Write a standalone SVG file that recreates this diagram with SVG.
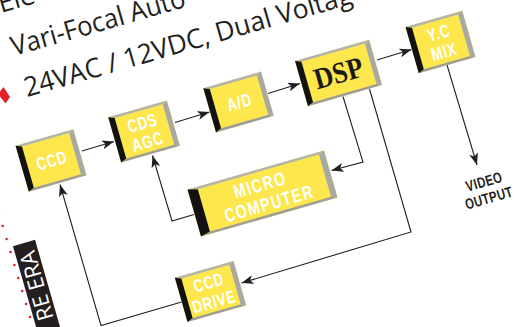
<svg xmlns="http://www.w3.org/2000/svg" width="524" height="327" viewBox="0 0 524 327">
<defs>
<style>
.y{fill:#fde74c}
.gt{fill:#b3b4ad}
.gr{fill:#a8a9a2}
.gb{fill:#9d9e98}
.bk{fill:#121212}
.bt{font-family:"Liberation Sans",Arial,sans-serif;font-weight:bold;font-size:18px;fill:#fff;text-anchor:middle;letter-spacing:1px}
.ds{font-family:"Liberation Serif","Times New Roman",serif;font-weight:bold;font-size:30px;fill:#1a1a1a;text-anchor:middle}
.ln{fill:none;stroke:#231f20;stroke-width:1.1;marker-end:url(#ah)}
.hd{font-family:"Open Sans","Liberation Sans",sans-serif;font-size:27px;fill:#231f20}
.lb{font-family:"Liberation Sans",Arial,sans-serif;font-weight:bold;font-size:15px;fill:#231f20;text-anchor:middle;letter-spacing:0.5px}
.era{font-family:"Open Sans","Liberation Sans",sans-serif;font-size:22px;fill:#fff;text-anchor:end}
.dot{fill:#e31e24}
</style>
<marker id="ah" viewBox="0 0 12 9" refX="12" refY="4.5" markerWidth="12" markerHeight="9" markerUnits="userSpaceOnUse" orient="auto"><path d="M0,0 L12,4.5 L0,9 L3,4.5 Z" fill="#231f20"/></marker>
</defs>
<rect width="524" height="327" fill="#fff"/>

<g id="heading">
<text class="hd" transform="translate(1,13) rotate(-16)">Ele</text>
<text class="hd" transform="translate(14,56) rotate(-16)" textLength="180" lengthAdjust="spacingAndGlyphs">Vari-Focal Auto</text>
<text class="hd" transform="translate(27,97) rotate(-16)" textLength="340" lengthAdjust="spacingAndGlyphs">24VAC / 12VDC, Dual Voltag</text>
<polygon points="3.5,87 10,97 5.5,103.5 -2,94" fill="#e4202a"/>
</g>

<g id="side">
<g class="dot">
<circle cx="-1.2" cy="213" r="1.3"/><circle cx="2.7" cy="226" r="1.3"/><circle cx="6.6" cy="239" r="1.3"/><circle cx="10.5" cy="252" r="1.3"/><circle cx="14.4" cy="265" r="1.3"/><circle cx="18.3" cy="278" r="1.3"/><circle cx="22.2" cy="291" r="1.3"/><circle cx="26.1" cy="304" r="1.3"/><circle cx="30" cy="317" r="1.3"/>
</g>
<g transform="translate(24,243) rotate(-16)">
<rect x="-11.5" y="0" width="23" height="110" fill="#231f20"/>
<text class="era" transform="rotate(-90)" x="-9" y="8">RE ERA</text>
</g>
</g>

<g id="connectors">
<path class="ln" d="M82,151 L114,141.5"/>
<path class="ln" d="M175,122.5 L209.5,112"/>
<path class="ln" d="M268,93.5 L300,83.5"/>
<path class="ln" d="M377,60 L411.5,49.5"/>
<path class="ln" d="M447,65 L477,165"/>
<path class="ln" d="M343,96.5 L363,162 L331.5,170.5"/>
<path class="ln" d="M369.5,89 L411,232 L241.5,283"/>
<path class="ln" d="M181.5,302 L101,325.5 L60,184.5"/>
<path class="ln" d="M194,214.5 L172,221 L152.5,155.5"/>
</g>

<g id="ccd" transform="translate(51,160.5) rotate(-16)">
<rect class="y" x="-30" y="-24" width="60" height="48"/>
<polygon class="gt" points="-30,-24 30,-24 25,-21.5 -24,-21.5"/>
<polygon class="gr" points="30,-24 30,24 25,21.5 25,-21.5"/>
<polygon class="gb" points="-30,24 30,24 25,21.5 -24,21.5"/>
<polygon class="bk" points="-30,-24 -24,-21.5 -24,21.5 -30,24"/>
<text class="bt" transform="scale(0.74,1)" x="1" y="6.5">CCD</text>
</g>

<g id="cds-agc" transform="translate(144,131.5) rotate(-16)">
<rect class="y" x="-30.5" y="-23.5" width="61" height="47"/>
<polygon class="gt" points="-30.5,-23.5 30.5,-23.5 25.5,-21 -24.5,-21"/>
<polygon class="gr" points="30.5,-23.5 30.5,23.5 25.5,21 25.5,-21"/>
<polygon class="gb" points="-30.5,23.5 30.5,23.5 25.5,21 -24.5,21"/>
<polygon class="bk" points="-30.5,-23.5 -24.5,-21 -24.5,21 -30.5,23.5"/>
<text class="bt" transform="scale(0.74,1)" x="1" y="-2.5">CDS</text>
<text class="bt" transform="scale(0.74,1)" x="1" y="17">AGC</text>
</g>

<g id="ad" transform="translate(238.5,102) rotate(-16)">
<rect class="y" x="-30" y="-23" width="60" height="46"/>
<polygon class="gt" points="-30,-23 30,-23 25,-20.5 -24,-20.5"/>
<polygon class="gr" points="30,-23 30,23 25,20.5 25,-20.5"/>
<polygon class="gb" points="-30,23 30,23 25,20.5 -24,20.5"/>
<polygon class="bk" points="-30,-23 -24,-20.5 -24,20.5 -30,23"/>
<text class="bt" transform="scale(0.74,1)" x="1" y="6.5">A/D</text>
</g>

<g id="dsp" transform="translate(338.5,73) rotate(-16)">
<rect class="y" x="-38.5" y="-23.5" width="77" height="47"/>
<polygon class="gt" points="-38.5,-23.5 38.5,-23.5 33.5,-21 -32.5,-21"/>
<polygon class="gr" points="38.5,-23.5 38.5,23.5 33.5,21 33.5,-21"/>
<polygon class="gb" points="-38.5,23.5 38.5,23.5 33.5,21 -32.5,21"/>
<polygon class="bk" points="-38.5,-23.5 -32.5,-21 -32.5,21 -38.5,23.5"/>
<text class="ds" transform="scale(0.88,1)" x="0" y="10">DSP</text>
</g>

<g id="yc-mix" transform="translate(440.5,42) rotate(-16)">
<rect class="y" x="-29.5" y="-24" width="59" height="48"/>
<polygon class="gt" points="-29.5,-24 29.5,-24 24.5,-21.5 -23.5,-21.5"/>
<polygon class="gr" points="29.5,-24 29.5,24 24.5,21.5 24.5,-21.5"/>
<polygon class="gb" points="-29.5,24 29.5,24 24.5,21.5 -23.5,21.5"/>
<polygon class="bk" points="-29.5,-24 -23.5,-21.5 -23.5,21.5 -29.5,24"/>
<text class="bt" transform="scale(0.74,1)" x="1" y="-3">Y.C</text>
<text class="bt" transform="scale(0.74,1)" x="1" y="16.5">MIX</text>
</g>

<g id="micro-computer" transform="translate(262.5,193.5) rotate(-16)">
<rect class="y" x="-71" y="-24.5" width="142" height="49"/>
<polygon class="gt" points="-71,-24.5 71,-24.5 65,-22 -61,-22"/>
<polygon class="gr" points="71,-24.5 71,24.5 65,22 65,-22"/>
<polygon class="gb" points="-71,24.5 71,24.5 65,22 -61,22"/>
<polygon class="bk" points="-71,-24.5 -61,-22 -61,22 -71,24.5"/>
<text class="bt" transform="scale(0.74,1)" x="0" y="-2.5" style="font-size:19px;letter-spacing:2px">MICRO</text>
<text class="bt" transform="scale(0.74,1)" x="5" y="18" style="font-size:19px;letter-spacing:2px">COMPUTER</text>
</g>

<g id="ccd-drive" transform="translate(210.5,291.5) rotate(-16)">
<rect class="y" x="-30.5" y="-23" width="61" height="46"/>
<polygon class="gt" points="-30.5,-23 30.5,-23 25.5,-20.5 -24.5,-20.5"/>
<polygon class="gr" points="30.5,-23 30.5,23 25.5,20.5 25.5,-20.5"/>
<polygon class="gb" points="-30.5,23 30.5,23 25.5,20.5 -24.5,20.5"/>
<polygon class="bk" points="-30.5,-23 -24.5,-20.5 -24.5,20.5 -30.5,23"/>
<text class="bt" transform="scale(0.74,1)" x="1" y="-3">CCD</text>
<text class="bt" transform="scale(0.74,1)" x="1" y="17">DRIVE</text>
</g>

<g id="video-output" transform="translate(486.5,190) rotate(-16)">
<text class="lb" transform="scale(0.76,1)" x="0" y="-3.5">VIDEO</text>
<text class="lb" transform="scale(0.76,1)" x="0" y="13.5">OUTPUT</text>
</g>
</svg>
